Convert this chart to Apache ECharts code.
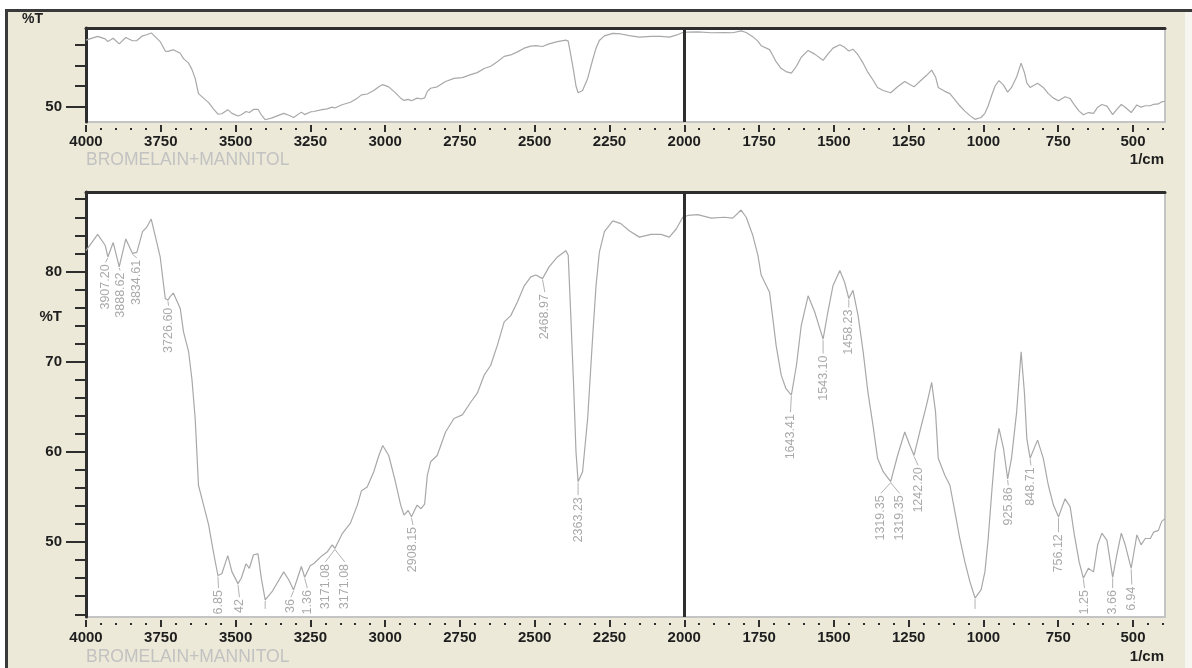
<!DOCTYPE html>
<html>
<head>
<meta charset="utf-8">
<script src="https://cdn.jsdelivr.net/npm/echarts@6/dist/echarts.min.js"></script>
<style>html,body{margin:0;padding:0;background:#fff;}#c{width:1192px;height:668px;}</style>
</head>
<body>
<div id="c"></div>
<script>
// ---- data ----
const wavenumbers = [
  4000,3961,3936,3927,3909,3889,3867,3845,3830,3811,
  3797,3782,3769,3752,3735,3726,3719,3708,3685,3674,
  3657,3646,3635,3624,3607,3590,3574,3559,3546,3526,
  3512,3492,3481,3465,3454,3440,3425,3414,3401,3378,
  3339,3322,3306,3280,3269,3250,3239,3211,3194,3177,
  3168,3144,3116,3093,3079,3060,3038,3021,3008,2988,
  2968,2948,2937,2923,2912,2893,2880,2868,2859,2848,
  2826,2798,2770,2742,2714,2692,2669,2647,2625,2602,
  2580,2558,2535,2513,2496,2474,2452,2424,2396,2388,
  2379,2370,2362,2355,2340,2323,2306,2295,2284,2267,
  2239,2212,2184,2150,2111,2078,2050,2027,2005,1988,
  1955,1910,1866,1838,1810,1793,1771,1754,1743,1715,
  1704,1693,1676,1660,1642,1625,1609,1586,1564,1536,
  1520,1503,1480,1464,1450,1436,1419,1402,1386,1369,
  1354,1335,1310,1287,1263,1246,1232,1213,1190,1173,
  1160,1151,1129,1112,1095,1079,1062,1045,1028,1008,
  995,984,972,961,948,933,919,906,889,874,
  863,855,844,819,800,783,766,749,727,710,
  696,680,666,649,632,618,604,587,568,554,
  539,526,506,487,473,459,442,431,415,404,
  393
];
const transmittance = [
  82.3,84.1,82.9,81.6,83.2,80.5,83.6,82.0,82.1,84.4,
  84.9,85.8,84.0,81.6,77.0,76.8,77.2,77.6,75.9,73.3,
  71.1,68.1,63.7,56.3,54.1,51.9,48.9,46.3,46.5,48.5,
  46.7,45.4,46.0,47.6,47.1,48.6,48.7,46.0,43.6,44.5,
  46.7,45.8,44.7,47.3,46.1,47.4,47.6,48.5,48.9,49.7,
  49.3,50.9,52.1,54.1,55.7,56.1,57.8,59.6,60.7,59.6,
  57.0,54.1,53.0,53.5,52.8,54.1,53.7,54.2,57.4,58.9,
  59.6,62.2,63.7,64.1,65.5,66.5,68.5,69.6,71.8,74.4,
  75.1,76.6,78.4,79.4,79.6,79.2,80.5,81.6,82.3,81.8,
  74.8,67.4,60.0,56.7,57.8,63.7,72.9,78.4,82.1,84.4,
  85.6,85.3,84.5,83.8,84.1,84.1,83.8,84.7,86.0,86.2,
  86.3,85.9,86.0,85.9,86.8,86.0,84.0,81.8,79.6,77.7,
  74.8,71.8,68.5,67.0,66.3,69.6,74.0,77.3,75.5,72.5,
  75.5,78.4,80.1,78.8,77.0,77.9,75.1,71.1,66.6,62.9,
  59.3,57.8,56.7,59.6,62.2,60.7,59.6,62.2,65.2,67.7,
  64.4,59.3,57.4,56.3,53.3,50.4,47.8,45.6,43.8,44.7,
  46.7,50.4,55.6,60.0,62.6,60.4,57.0,59.3,64.4,71.1,
  66.6,61.5,59.3,61.3,59.3,56.3,54.1,52.8,54.8,53.9,
  50.8,47.8,46.0,47.1,46.7,49.7,51.0,50.2,46.1,48.6,
  51.0,49.7,47.1,50.8,49.7,50.4,50.4,51.1,51.3,52.3,
  52.6
];
// peak annotations (visible text, dip position, label top position)
const peakLabels = ['3907.20','3888.62','3834.61','3726.60','6.85','42','','36','1.36','3171.08','3171.08','2908.15','2468.97','2363.23','1643.41','1543.10','1458.23','1319.35','1319.35','1242.20','','925.86','848.71','756.12','1.25','3.66','6.94'];
const peakDipWn  = [3927,3889,3845,3726,3559,3492,3401,3306,3269,3168,3168,2912,2474,2355,1642,1536,1450,1310,1310,1232,1028,919,844,749,666,568,506];
const peakDipT   = [81.6,80.5,82.0,76.8,46.3,45.4,43.6,44.7,46.1,49.3,49.3,52.8,79.2,56.7,66.3,72.5,77.0,56.7,56.7,59.6,43.8,57.0,59.3,52.8,46.0,46.1,47.1];
const peakLabWn  = [3935,3886,3830,3724,3557,3487,3401,3315,3260,3200,3135,2907,2466,2355,1645,1536,1450,1343,1280,1218,1028,917,841,749,662,568,504];
const peakLabT   = [81.0,80.1,81.5,76.2,44.9,43.9,42.6,43.9,44.9,47.8,47.8,51.9,77.7,55.2,64.4,70.9,76.0,55.4,55.4,58.5,42.6,56.3,58.5,51.1,44.9,44.9,45.3];

const xTickValues = [4000,3750,3500,3250,3000,2750,2500,2250,2000,1750,1500,1250,1000,750,500];
const xDotValues = [];
for (let w = 3950; w >= 400; w -= 50) { if (w % 250 !== 0) xDotValues.push(w); }
const yTopMajor = [50], yTopMinor = [60,70,80];
const yBotMajor = [50,60,70,80];
const yBotLabels = [50,60,70,75,80];
const yBotMinor = [];
for (let v = 42; v <= 88; v += 2) { if (v % 10 !== 0) yBotMinor.push(v); }
const sampleName = 'BROMELAIN+MANNITOL';
const unitLabel = '1/cm';

// ---- chart ----
const spectrum = wavenumbers.map((w, i) => [w, transmittance[i]]);
const peaks = peakDipWn.map((w, i) => [w, peakDipT[i], peakLabWn[i], peakLabT[i]]);

const FONT = "'Liberation Sans Narrow','Liberation Sans',Arial,sans-serif";
const DARK = '#2e2e2e';
const XMIN = 393, XMAX = 4000;
const lblStyle = { color: '#1e1e1e', fontFamily: FONT, fontWeight: 'bold', fontSize: 15 };

function xMain(grid, margin) {
  return { gridIndex: grid, type: 'value', inverse: true, min: XMIN, max: XMAX, position: 'bottom', offset: 3,
    axisLine: { show: false }, splitLine: { show: false },
    axisTick: { show: true, customValues: xTickValues, length: 7, lineStyle: { color: DARK, width: 2 } },
    axisLabel: Object.assign({ show: true, customValues: xTickValues, margin: margin, formatter: v => String(v) }, lblStyle) };
}
function xDots(grid) {
  return { gridIndex: grid, type: 'value', inverse: true, min: XMIN, max: XMAX, position: 'bottom', offset: 6,
    axisLine: { show: false }, splitLine: { show: false }, axisLabel: { show: false },
    axisTick: { show: true, customValues: xDotValues, length: 2, lineStyle: { color: DARK, width: 2 } } };
}
function xTop(grid) {
  return { gridIndex: grid, type: 'value', inverse: true, min: XMIN, max: XMAX, position: 'top',
    axisLine: { show: true, lineStyle: { color: DARK, width: 3 } }, splitLine: { show: false },
    axisTick: { show: false }, axisLabel: { show: false } };
}
function yMain(grid, min, max, ticks, labels, fmt) {
  return { gridIndex: grid, type: 'value', min: min, max: max, position: 'left',
    axisLine: { show: true, lineStyle: { color: DARK, width: 3 } }, splitLine: { show: false },
    axisTick: { show: true, customValues: ticks, length: 20, lineStyle: { color: DARK, width: 2 } },
    axisLabel: Object.assign({ show: true, customValues: labels, margin: 24, formatter: fmt }, lblStyle) };
}
function yMinor(grid, min, max, ticks) {
  return { gridIndex: grid, type: 'value', min: min, max: max, position: 'left',
    axisLine: { show: false }, splitLine: { show: false }, axisLabel: { show: false },
    axisTick: { show: true, customValues: ticks, length: 11, lineStyle: { color: DARK, width: 2 } } };
}
const vline = { silent: true, symbol: ['none', 'none'], label: { show: false },
  lineStyle: { color: DARK, width: 3, type: 'solid' }, data: [{ xAxis: 2000 }] };
const lineStyleSpec = { color: '#a8a8a8', width: 1.2 };

const option = {
  animation: false,
  backgroundColor: '#ECE9D8',
  grid: [
    { left: 86, top: 28, width: 1079, height: 94, show: true, backgroundColor: '#fff', borderColor: '#c4c4c4', borderWidth: 2 },
    { left: 86, top: 192, width: 1079, height: 425, show: true, backgroundColor: '#fff', borderColor: '#c4c4c4', borderWidth: 2 }
  ],
  xAxis: [ xMain(0, 9), xDots(0), xTop(0), xMain(1, 10), xDots(1), xTop(1) ],
  yAxis: [
    yMain(0, 42.5, 88.2, yTopMajor, yTopMajor, v => String(v)),
    yMinor(0, 42.5, 88.2, yTopMinor),
    yMain(1, 41.7, 88.8, yBotMajor, yBotLabels, v => (v === 75 ? '%T' : String(v))),
    yMinor(1, 41.7, 88.8, yBotMinor)
  ],
  series: [
    { type: 'line', xAxisIndex: 0, yAxisIndex: 0, data: spectrum, showSymbol: false, symbol: 'none',
      lineStyle: lineStyleSpec, markLine: vline, z: 3 },
    { type: 'line', xAxisIndex: 3, yAxisIndex: 2, data: spectrum, showSymbol: false, symbol: 'none',
      lineStyle: lineStyleSpec, markLine: vline, z: 3 },
    { type: 'custom', xAxisIndex: 3, yAxisIndex: 2, data: peaks, clip: true, silent: true, z: 2,
      encode: { x: [0, 2], y: [1, 3] },
      renderItem: function (params, api) {
        const i = params.dataIndex;
        const d = api.coord([api.value(0), api.value(1)]);
        const l = api.coord([api.value(2), api.value(3)]);
        const children = [{ type: 'line', shape: { x1: d[0], y1: d[1] + 1, x2: l[0], y2: l[1] },
          style: { stroke: '#b2b2b2', lineWidth: 1 } }];
        if (peakLabels[i]) {
          children.push({ type: 'text', x: l[0], y: l[1] + 2, rotation: Math.PI / 2,
            style: { text: peakLabels[i], fill: '#a9a9a9', font: "12.5px 'Liberation Sans', Arial, sans-serif",
              align: 'right', verticalAlign: 'middle' } });
        }
        return { type: 'group', children: children };
      } }
  ],
  graphic: [
    { type: 'rect', shape: { x: 0, y: 0, width: 1192, height: 9 }, style: { fill: '#fff' }, z: 100 },
    { type: 'rect', shape: { x: 0, y: 0, width: 5, height: 668 }, style: { fill: '#fff' }, z: 100 },
    { type: 'rect', shape: { x: 1185, y: 9, width: 7, height: 659 }, style: { fill: '#f6f5ef' }, z: 100 },
    { type: 'text', x: 22, y: 12, style: { text: '%T', fill: '#222', font: "bold 14px " + FONT, verticalAlign: 'top' }, z: 100 },
    { type: 'line', shape: { x1: 5, y1: 10.5, x2: 1192, y2: 10.5 }, style: { stroke: '#3a3a3a', lineWidth: 3 }, z: 101 },
    { type: 'line', shape: { x1: 6.5, y1: 9, x2: 6.5, y2: 668 }, style: { stroke: '#3a3a3a', lineWidth: 3 }, z: 101 },
    { type: 'text', x: 86, y: 160, style: { text: sampleName, fill: '#c2c2c2', font: "17.5px 'Liberation Sans', Arial, sans-serif", verticalAlign: 'middle' }, z: 100 },
    { type: 'text', x: 86, y: 657, style: { text: sampleName, fill: '#c2c2c2', font: "17.5px 'Liberation Sans', Arial, sans-serif", verticalAlign: 'middle' }, z: 100 },
    { type: 'text', x: 1164, y: 160, style: { text: unitLabel, fill: '#1e1e1e', font: "bold 15px " + FONT, align: 'right', verticalAlign: 'middle' }, z: 100 },
    { type: 'text', x: 1164, y: 657, style: { text: unitLabel, fill: '#1e1e1e', font: "bold 15px " + FONT, align: 'right', verticalAlign: 'middle' }, z: 100 }
  ]
};
const chart = echarts.init(document.getElementById('c'), null, { renderer: 'canvas' });
chart.setOption(option);
</script>
</body>
</html>
